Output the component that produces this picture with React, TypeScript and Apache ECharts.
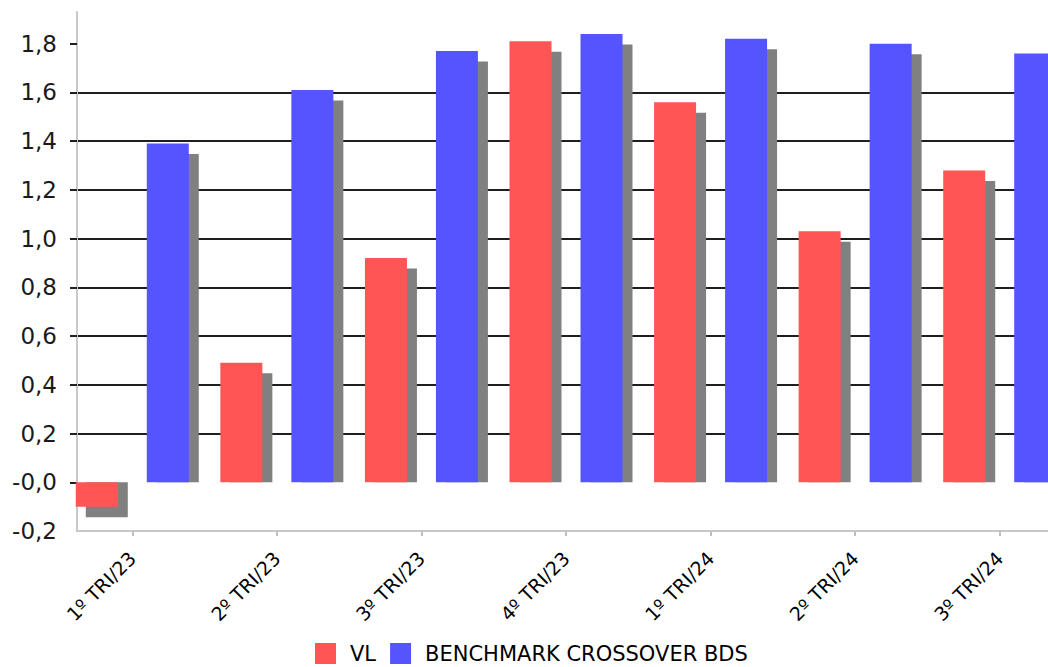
import { useEffect, useRef } from "react";
import * as echarts from "echarts";

// Quarterly returns (%) — fund vs. benchmark
const categories = ["1º TRI/23", "2º TRI/23", "3º TRI/23", "4º TRI/23", "1º TRI/24", "2º TRI/24", "3º TRI/24"];
const vlValues = [-0.1, 0.49, 0.92, 1.81, 1.56, 1.03, 1.28];
const benchmarkValues = [1.39, 1.61, 1.77, 1.84, 1.82, 1.8, 1.76];
const seriesNames = ["VL", "BENCHMARK CROSSOVER BDS"];
const yTicks = [-0.2, 0, 0.2, 0.4, 0.6, 0.8, 1.0, 1.2, 1.4, 1.6, 1.8];
const yTickLabels = ["-0,2", "-0,0", "0,2", "0,4", "0,6", "0,8", "1,0", "1,2", "1,4", "1,6", "1,8"];

const VIEW_W = 1048;
const VIEW_H = 667;
const CANVAS_W = 1100; // plot runs past the visible right edge
const Y_MIN = -0.2;
const Y_MAX = 1.93;
const BAR_W = 42;
const BAR_GAP = 29;
const SHADOW_DX = 10;
const SHADOW_DY = 10.5;
const RED = "#FF5555";
const BLUE = "#5555FF";
const FONT = "DejaVu Sans";

function tickLabel(val: number): string {
  const i = yTicks.findIndex((t) => Math.abs(t - val) < 1e-6);
  return i >= 0 ? yTickLabels[i] : "";
}

// Offset grey "shadow" drawn behind each bar, cut at the zero baseline
function shadowSeries(values: number[], slot: number) {
  return {
    type: "custom",
    xAxisIndex: 1,
    yAxisIndex: 1,
    z: 1,
    silent: true,
    data: values.map((v, i) => [i, v]),
    renderItem: (_params: any, api: any) => {
      const i = api.value(0);
      const v = api.value(1);
      const [cx, yv] = api.coord([i, v]);
      const y0 = api.coord([i, 0])[1];
      const left = cx - (BAR_W * 2 + BAR_GAP) / 2 + slot * (BAR_W + BAR_GAP) + SHADOW_DX;
      let top: number;
      let bottom: number;
      if (v >= 0) {
        top = yv + SHADOW_DY;
        bottom = y0;
      } else {
        top = y0;
        bottom = yv + SHADOW_DY;
      }
      if (bottom <= top) return null;
      return {
        type: "rect",
        shape: { x: left, y: top, width: BAR_W, height: bottom - top },
        style: { fill: "#808080" },
      };
    },
  };
}

export default function App() {
  const ref = useRef<HTMLDivElement>(null);

  useEffect(() => {
    if (!ref.current) return;
    const chart = echarts.init(ref.current, undefined, { renderer: "svg" });
    chart.setOption({
      animation: false,
      backgroundColor: "#ffffff",
      grid: [
        { left: 77, right: CANVAS_W - VIEW_W, top: 12, bottom: 136 },
        { left: 60, width: 1012, top: 12, bottom: 136 },
      ],
      xAxis: [
        {
          type: "category",
          gridIndex: 0,
          data: categories,
          axisLine: { show: true, onZero: false, lineStyle: { color: "#c8c8c8", width: 2 } },
          axisTick: { show: false },
          axisLabel: { show: false },
          splitLine: { show: false },
        },
        {
          type: "category",
          gridIndex: 1,
          data: categories,
          axisLine: { show: false, onZero: false },
          axisTick: {
            show: true,
            alignWithLabel: true,
            length: 5,
            lineStyle: { color: "#c0c0c0", width: 2 },
          },
          axisLabel: {
            rotate: 45,
            margin: 24,
            fontSize: 19,
            fontFamily: FONT,
            color: "#000000",
            padding: [0, 0, 0, 0],
          },
          splitLine: { show: false },
        },
      ],
      yAxis: [
        {
          type: "value",
          gridIndex: 0,
          min: Y_MIN,
          max: Y_MAX,
          interval: 0.2,
          axisLine: { show: true, lineStyle: { color: "#c8c8c8", width: 2 } },
          axisTick: {
            show: true,
            length: 7,
            customValues: yTicks.slice(1),
            lineStyle: { color: "#1e1e1e", width: 2 },
          },
          axisLabel: {
            customValues: yTicks,
            formatter: tickLabel,
            margin: 20,
            fontSize: 23,
            fontFamily: FONT,
            color: "#1a1a1a",
          },
          splitLine: {
            show: true,
            showMinLine: false,
            showMaxLine: false,
            lineStyle: { color: "#1e1e1e", width: 2 },
          },
        },
        {
          type: "value",
          gridIndex: 1,
          min: Y_MIN,
          max: Y_MAX,
          show: false,
          splitLine: { show: false },
        },
      ],
      legend: {
        left: 315,
        top: 643,
        padding: 0,
        data: seriesNames,
        icon: "rect",
        itemWidth: 21,
        itemHeight: 21,
        itemGap: 14,
        textStyle: {
          fontSize: 21,
          lineHeight: 21,
          fontFamily: FONT,
          color: "#000000",
          padding: [0, 0, 0, 9],
        },
      },
      series: [
        {
          name: seriesNames[0],
          type: "bar",
          xAxisIndex: 1,
          yAxisIndex: 1,
          z: 2,
          barWidth: BAR_W,
          barGap: `${(BAR_GAP / BAR_W) * 100}%`,
          itemStyle: { color: RED },
          data: vlValues,
        },
        {
          name: seriesNames[1],
          type: "bar",
          xAxisIndex: 1,
          yAxisIndex: 1,
          z: 2,
          barWidth: BAR_W,
          barGap: `${(BAR_GAP / BAR_W) * 100}%`,
          itemStyle: { color: BLUE },
          data: benchmarkValues,
        },
        shadowSeries(vlValues, 0),
        shadowSeries(benchmarkValues, 1),
      ],
    });
    return () => chart.dispose();
  }, []);

  return (
    <div
      style={{
        position: "fixed",
        left: 0,
        top: 0,
        width: VIEW_W,
        height: VIEW_H,
        overflow: "hidden",
        background: "#fff",
      }}
    >
      <div ref={ref} style={{ width: CANVAS_W, height: VIEW_H }} />
    </div>
  );
}
